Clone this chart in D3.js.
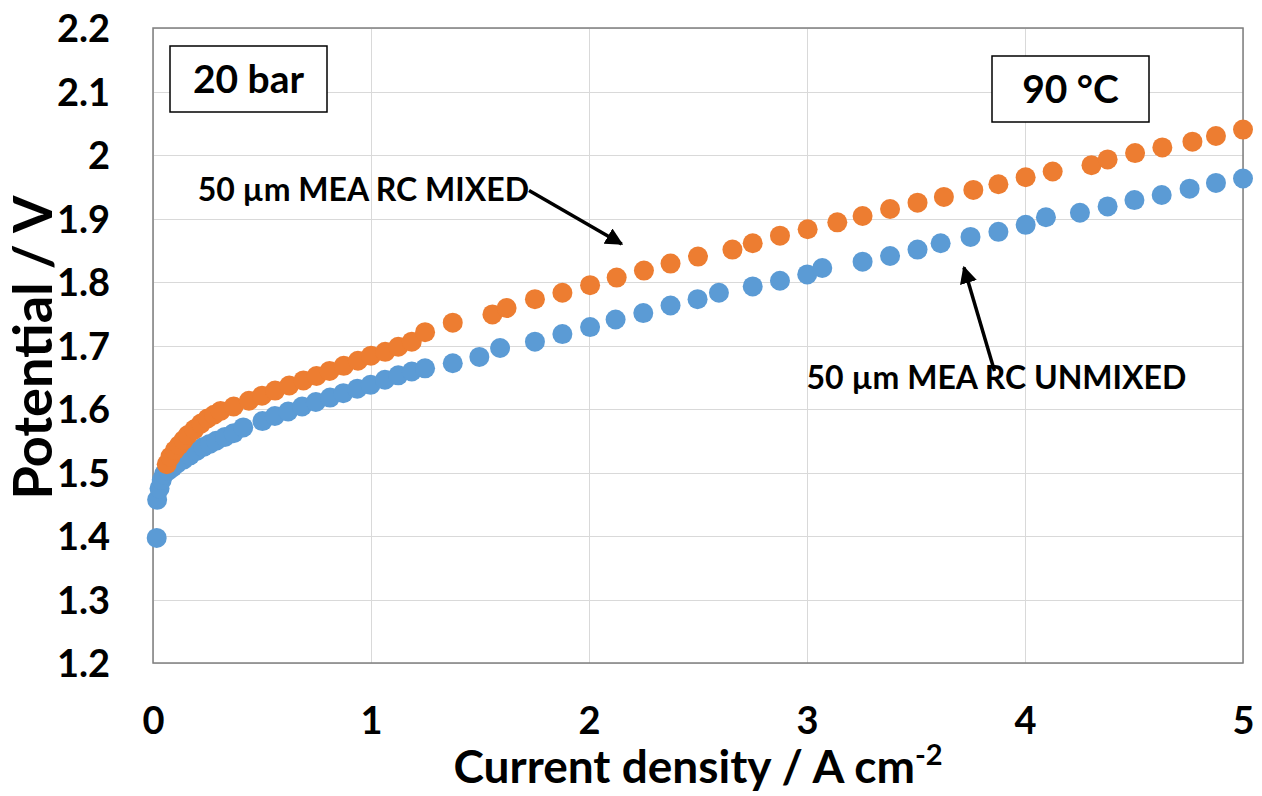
<!DOCTYPE html>
<html lang="en">
<head>
  <meta charset="UTF-8">
  <title>Polarisation curves</title>
  <style>
      body { margin: 0; background: #fff; }
      text { font-family: Lato, "Open Sans", sans-serif; font-weight: 700; fill: #000; }
      .grid line { stroke: #d9d9d9; stroke-width: 1; shape-rendering: crispEdges; }
      .grid path { stroke-width: 0; }
      .tick-label text { font-size: 38px; }
  </style>
</head>
<body>
<div id="chart"></div>
<script src="https://d3js.org/d3.v7.min.js"></script>
<script>
  // current density (A cm-2) and potential (V)
  const mixedJ = [0.063, 0.08, 0.10, 0.12, 0.14, 0.16, 0.19, 0.22, 0.25, 0.28, 0.31, 0.37, 0.44, 0.50, 0.56,
    0.625, 0.69, 0.75, 0.81, 0.875, 0.94, 1.00, 1.065, 1.125, 1.187, 1.248, 1.375, 1.557, 1.622, 1.752,
    1.878, 2.005, 2.127, 2.252, 2.374, 2.50, 2.658, 2.751, 2.876, 3.003, 3.139, 3.255, 3.381, 3.507,
    3.628, 3.763, 3.878, 4.003, 4.127, 4.305, 4.379, 4.505, 4.630, 4.768, 4.876, 5.0];
  const mixedV = [1.513, 1.525, 1.535, 1.543, 1.551, 1.559, 1.568, 1.577, 1.585, 1.591, 1.597, 1.604, 1.613, 1.621, 1.629,
    1.637, 1.645, 1.652, 1.660, 1.668, 1.676, 1.684, 1.690, 1.698, 1.706, 1.721, 1.736, 1.749, 1.759, 1.773,
    1.783, 1.795, 1.807, 1.818, 1.829, 1.840, 1.851, 1.861, 1.873, 1.883, 1.894, 1.904, 1.915, 1.925,
    1.934, 1.945, 1.954, 1.965, 1.974, 1.984, 1.993, 2.003, 2.012, 2.021, 2.030, 2.040];

  const unmixedJ = [0.017, 0.019, 0.030, 0.04, 0.05, 0.07, 0.09, 0.11, 0.14, 0.17, 0.20, 0.23, 0.26, 0.29, 0.33,
    0.37, 0.414, 0.502, 0.559, 0.620, 0.684, 0.747, 0.812, 0.873, 0.937, 0.998, 1.064, 1.125, 1.187, 1.248,
    1.375, 1.497, 1.592, 1.752, 1.878, 2.005, 2.122, 2.249, 2.374, 2.498, 2.596, 2.751, 2.876, 3.001,
    3.070, 3.255, 3.381, 3.507, 3.613, 3.750, 3.878, 4.003, 4.096, 4.252, 4.379, 4.502, 4.627, 4.755, 4.876, 5.0];
  const unmixedV = [1.397, 1.457, 1.475, 1.488, 1.497, 1.503, 1.508, 1.514, 1.520, 1.527, 1.534, 1.540, 1.545, 1.550, 1.556,
    1.562, 1.571, 1.581, 1.589, 1.596, 1.604, 1.611, 1.618, 1.625, 1.632, 1.638, 1.646, 1.653, 1.659, 1.664,
    1.672, 1.682, 1.696, 1.706, 1.718, 1.729, 1.741, 1.751, 1.763, 1.773, 1.783, 1.793, 1.802, 1.812,
    1.822, 1.832, 1.841, 1.851, 1.861, 1.871, 1.879, 1.890, 1.902, 1.909, 1.919, 1.929, 1.937, 1.947, 1.956, 1.963];

  const xTicks = [0, 1, 2, 3, 4, 5];
  const yTicks = [1.2, 1.3, 1.4, 1.5, 1.6, 1.7, 1.8, 1.9, 2.0, 2.1, 2.2];
  const yTickLabels = ["1.2", "1.3", "1.4", "1.5", "1.6", "1.7", "1.8", "1.9", "2", "2.1", "2.2"];

  const margin = {top: 28, right: 19, bottom: 133, left: 153},
    width = 1262 - margin.left - margin.right,
    height = 796 - margin.top - margin.bottom;

  const root = d3.select("#chart").append("svg")
    .attr("width", 1262)
    .attr("height", 796);

  const svg = root.append("g")
    .attr("transform", `translate(${margin.left},${margin.top})`);

  const x = d3.scaleLinear().domain([0, 5]).range([0, width]);
  const y = d3.scaleLinear().domain([1.2, 2.2]).range([height, 0]);

  // gridlines
  svg.append("g")
    .attr("class", "grid")
    .attr("transform", `translate(0,${height})`)
    .call(d3.axisBottom(x).tickValues(xTicks).tickSize(-height).tickFormat(""));

  svg.append("g")
    .attr("class", "grid")
    .call(d3.axisLeft(y).tickValues(yTicks).tickSize(-width).tickFormat(""));

  // plot border
  svg.append("rect")
    .attr("width", width)
    .attr("height", height)
    .attr("fill", "none")
    .attr("stroke", "#7f7f7f")
    .attr("stroke-width", 1.5);

  // tick labels
  const xAxis = svg.append("g")
    .attr("class", "tick-label")
    .attr("transform", `translate(0,${height})`)
    .call(d3.axisBottom(x).tickValues(xTicks).tickSize(0).tickPadding(44).tickFormat(d3.format("d")));
  xAxis.select(".domain").remove();

  const yAxis = svg.append("g")
    .attr("class", "tick-label")
    .call(d3.axisLeft(y).tickValues(yTicks).tickSize(0).tickPadding(43)
      .tickFormat((d, i) => yTickLabels[i]));
  yAxis.select(".domain").remove();
  yAxis.selectAll("text").attr("dy", "0.36em");

  // points
  const blue = "#5b9bd5", orange = "#ed7d31";

  svg.append("g").selectAll("circle")
    .data(unmixedJ)
    .enter().append("circle")
    .attr("cx", d => x(d))
    .attr("cy", (d, i) => y(unmixedV[i]))
    .attr("r", 10)
    .attr("fill", blue);

  svg.append("g").selectAll("circle")
    .data(mixedJ)
    .enter().append("circle")
    .attr("cx", d => x(d))
    .attr("cy", (d, i) => y(mixedV[i]))
    .attr("r", 10)
    .attr("fill", orange);

  // arrow marker
  root.append("defs").append("marker")
    .attr("id", "arrow")
    .attr("viewBox", "0 0 10 10")
    .attr("refX", 9)
    .attr("refY", 5)
    .attr("markerWidth", 5)
    .attr("markerHeight", 5)
    .attr("orient", "auto")
    .append("path")
    .attr("d", "M0,0 L10,5 L0,10 z")
    .attr("fill", "#000");

  // annotations (anchored in data units)
  svg.append("text")
    .attr("x", x(0.205))
    .attr("y", y(1.928))
    .style("font-size", "32px")
    .text("50 µm MEA RC MIXED");

  svg.append("line")
    .attr("x1", x(1.725)).attr("y1", y(1.944))
    .attr("x2", x(2.15)).attr("y2", y(1.86))
    .attr("stroke", "#000").attr("stroke-width", 3.5)
    .attr("marker-end", "url(#arrow)");

  svg.append("text")
    .attr("x", x(2.998))
    .attr("y", y(1.631))
    .style("font-size", "32px")
    .text("50 µm MEA RC UNMIXED");

  svg.append("line")
    .attr("x1", x(3.86)).attr("y1", y(1.66))
    .attr("x2", x(3.72)).attr("y2", y(1.823))
    .attr("stroke", "#000").attr("stroke-width", 3.5)
    .attr("marker-end", "url(#arrow)");

  // condition boxes
  function labelBox(x0, y0, w, h, label) {
    root.append("rect")
      .attr("x", x0).attr("y", y0)
      .attr("width", w).attr("height", h)
      .attr("fill", "#fff")
      .attr("stroke", "#000")
      .attr("stroke-width", 1.5);
    root.append("text")
      .attr("x", x0 + w / 2)
      .attr("y", y0 + h / 2)
      .attr("dy", "0.36em")
      .attr("text-anchor", "middle")
      .style("font-size", "39px")
      .text(label);
  }
  labelBox(170, 46, 157, 66, "20 bar");
  labelBox(992, 56, 157, 66, "90 °C");

  // axis titles
  const xTitle = root.append("text")
    .attr("x", margin.left + width / 2)
    .attr("y", 783)
    .attr("text-anchor", "middle")
    .style("font-size", "46px");
  xTitle.append("tspan").text("Current density / A cm");
  xTitle.append("tspan").attr("dy", -18).style("font-size", "29px").text("-2");

  root.append("text")
    .attr("transform", `translate(52,${margin.top + height / 2 + 2}) rotate(-90)`)
    .attr("text-anchor", "middle")
    .style("font-size", "54px")
    .text("Potential / V");
</script>
</body>
</html>
